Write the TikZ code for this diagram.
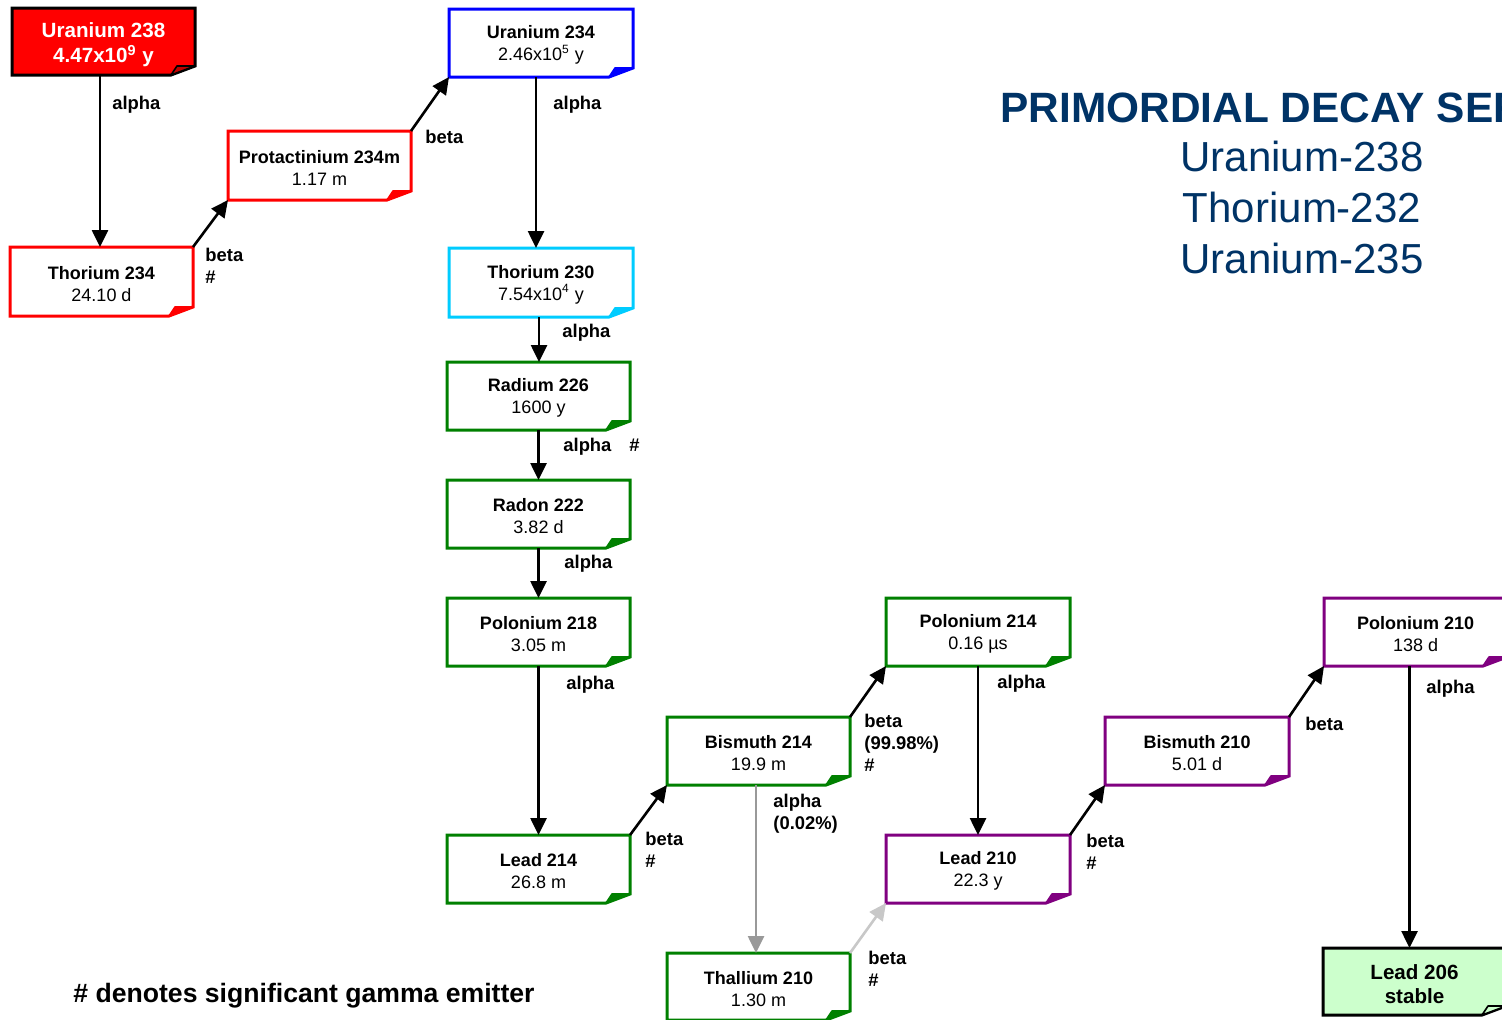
\documentclass[tikz,border=0pt]{standalone}
\usepackage{fontspec}
\setmainfont{Liberation Sans}
\usetikzlibrary{arrows.meta}
\pgfdeclarelayer{bg}
\pgfsetlayers{bg,main}
\definecolor{navy}{HTML}{003366}
\definecolor{nucred}{HTML}{FF0000}
\definecolor{nucblue}{HTML}{0000FF}
\definecolor{nuccyan}{HTML}{00CCFF}
\definecolor{nucgreen}{HTML}{008000}
\definecolor{nucpurple}{HTML}{800080}
\definecolor{paleg}{HTML}{CCFFCC}
\definecolor{arrgrey}{HTML}{999999}
\definecolor{arrlightgrey}{HTML}{C8C8C8}
\tikzset{
  bc/.store in=\bcol, fc/.store in=\fcol, ffc/.store in=\ffcol, ns/.store in=\nucstrut,
  bc=black, fc=white, ffc=black, ns=8.7pt,
  nuctext/.style={font=\fontsize{9}{11}\selectfont},
  nucbox/.style={draw=none, inner sep=0pt, outer sep=0pt, align=center, nuctext},
  arr/.style={line width=1.3pt, -{Triangle[length=8.5pt,width=8pt]}},
  lbl/.style={anchor=north west, inner sep=0pt, align=left, font=\bfseries\fontsize{9.2}{11}\selectfont},
}
% name x1 y1 x2 y2 opts text
\newcommand\nuclide[7]{%
  \begin{scope}[#6]
  \node[nucbox, minimum width={(#4-#2)*0.5pt}, minimum height={(#5-#3)*0.5pt}] (#1) at ({(#2+#4)/2},{(#3+#5)/2}) {\rule{0pt}{\nucstrut}#7};
  \begin{pgfonlayer}{bg}
  \filldraw[line width=1.5pt, draw=\bcol, fill=\fcol, line join=miter]
    (#1.north west) -- (#1.north east) -- ([yshift=4.5pt]#1.south east)
    -- ([xshift=-12pt]#1.south east) -- (#1.south west) -- cycle;
  \filldraw[line width=0.8pt, draw=\bcol, fill=\ffcol, line join=round]
    ([xshift=-12pt]#1.south east) -- ([xshift=-9pt,yshift=4.5pt]#1.south east)
    -- ([yshift=4.5pt]#1.south east) -- cycle;
  \end{pgfonlayer}
  \end{scope}}
\begin{document}
\begin{tikzpicture}[x=0.5pt,y=-0.5pt]
\useasboundingbox (0,0) rectangle (1502,1019);

% nuclides
\nuclide{u238}{12}{8}{195}{75}{bc=black,fc=nucred,ffc=nucred!75!black,ns=10.5pt,nuctext/.style={font=\bfseries\fontsize{10.3}{12.5}\selectfont,text=white}}{Uranium 238\\4.47x10\textsuperscript{9} y}
\nuclide{th234}{10}{247}{193}{316}{bc=nucred,ffc=nucred}{\textbf{Thorium 234}\\24.10 d}
\nuclide{pa234}{228}{131}{411}{200}{bc=nucred,ffc=nucred}{\textbf{Protactinium 234m}\\1.17 m}
\nuclide{u234}{449}{9}{633}{77}{bc=nucblue,ffc=nucblue}{\textbf{Uranium 234}\\2.46x10\textsuperscript{5} y}
\nuclide{th230}{449}{248}{633}{317}{bc=nuccyan,ffc=nuccyan}{\textbf{Thorium 230}\\7.54x10\textsuperscript{4} y}
\nuclide{ra226}{447}{362}{630}{430}{bc=nucgreen,ffc=nucgreen}{\textbf{Radium 226}\\1600 y}
\nuclide{rn222}{447}{480}{630}{548}{bc=nucgreen,ffc=nucgreen}{\textbf{Radon 222}\\3.82 d}
\nuclide{po218}{447}{598}{630}{666}{bc=nucgreen,ffc=nucgreen}{\textbf{Polonium 218}\\3.05 m}
\nuclide{pb214}{447}{835}{630}{903}{bc=nucgreen,ffc=nucgreen}{\textbf{Lead 214}\\26.8 m}
\nuclide{bi214}{667}{717}{850}{785}{bc=nucgreen,ffc=nucgreen}{\textbf{Bismuth 214}\\19.9 m}
\nuclide{po214}{886}{598}{1070}{666}{bc=nucgreen,ffc=nucgreen}{\textbf{Polonium 214}\\0.16 µs}
\nuclide{tl210}{667}{953}{850}{1020}{bc=nucgreen,ffc=nucgreen}{\textbf{Thallium 210}\\1.30 m}
\nuclide{pb210}{886}{835}{1070}{903}{bc=nucpurple,ffc=nucpurple}{\textbf{Lead 210}\\22.3 y}
\nuclide{bi210}{1105}{717}{1289}{785}{bc=nucpurple,ffc=nucpurple}{\textbf{Bismuth 210}\\5.01 d}
\nuclide{po210}{1324}{598}{1507}{666}{bc=nucpurple,ffc=nucpurple}{\textbf{Polonium 210}\\138 d}
\nuclide{pb206}{1323}{948}{1506}{1015}{bc=black,fc=paleg,ffc=paleg,ns=10.5pt,nuctext/.style={font=\bfseries\fontsize{10.3}{12}\selectfont}}{Lead 206\\stable}

% connectors
\draw[arr] ([xshift=-1.75pt]u238.south) -- ([xshift=-1.75pt]u238.south |- th234.north);
\draw[arr] (th234.north east) -- (pa234.south west);
\draw[arr] (pa234.north east) -- (u234.south west);
\draw[arr] ([xshift=-2.5pt]u234.south) -- ([xshift=-2.5pt]u234.south |- th230.north);
\draw[arr] ([xshift=-1pt]th230.south) -- ([xshift=-1pt]th230.south |- ra226.north);
\draw[arr] (ra226.south) -- (ra226.south |- rn222.north);
\draw[arr] (rn222.south) -- (rn222.south |- po218.north);
\draw[arr] (po218.south) -- (po218.south |- pb214.north);
\draw[arr] (pb214.north east) -- (bi214.south west);
\draw[arr] (bi214.north east) -- (po214.south west);
\draw[arr, draw=arrgrey, fill=arrgrey] ([xshift=-1.25pt]bi214.south) -- ([xshift=-1.25pt]bi214.south |- tl210.north);
\draw[arr] (po214.south) -- (po214.south |- pb210.north);
\draw[arr, draw=arrlightgrey, fill=arrlightgrey] (tl210.north east) -- (pb210.south west);
\draw[arr] (pb210.north east) -- (bi210.south west);
\draw[arr] (bi210.north east) -- (po210.south west);
\draw[arr] ([xshift=-3pt]po210.south) -- ([xshift=-3pt]po210.south |- pb206.north);

% connector labels
\node[lbl] (a1) at (112,96) {alpha};
\node[lbl] (b1) at (205,248) {beta\\\#};
\node[lbl] (b2) at (425,130) {beta};
\node[lbl] (a2) at (553,96) {alpha};
\node[lbl] (a3) at (562,324) {alpha};
\node[lbl] (a4) at (563,438) {alpha\hspace{9pt}\#};
\node[lbl] (a5) at (564,555) {alpha};
\node[lbl] (a6) at (566,676) {alpha};
\node[lbl] (b3) at (645,832) {beta\\\#};
\node[lbl] (b4) at (864,714) {beta\\(99.98\%)\\\#};
\node[lbl] (a7) at (773,794) {alpha\\(0.02\%)};
\node[lbl] (a8) at (997,675) {alpha};
\node[lbl] (b5) at (868,951) {beta\\\#};
\node[lbl] (b6) at (1086,834) {beta\\\#};
\node[lbl] (b7) at (1305,717) {beta};
\node[lbl] (a9) at (1426,680) {alpha};

% title and note
\node[anchor=base west, inner sep=0pt, text=navy, font=\bfseries\fontsize{21.2}{25}\selectfont] (title) at (1000,122) {PRIMORDIAL DECAY SERIES};
\node[anchor=north, inner sep=0pt, text=navy, align=center, font=\fontsize{21}{25.5}\selectfont] (series) at (1302,141) {Uranium-238\\Thorium-232\\Uranium-235};
\node[anchor=base west, inner sep=0pt, font=\bfseries\fontsize{13.3}{16}\selectfont] (note) at (73,1002) {\# denotes significant gamma emitter};
\end{tikzpicture}
\end{document}
